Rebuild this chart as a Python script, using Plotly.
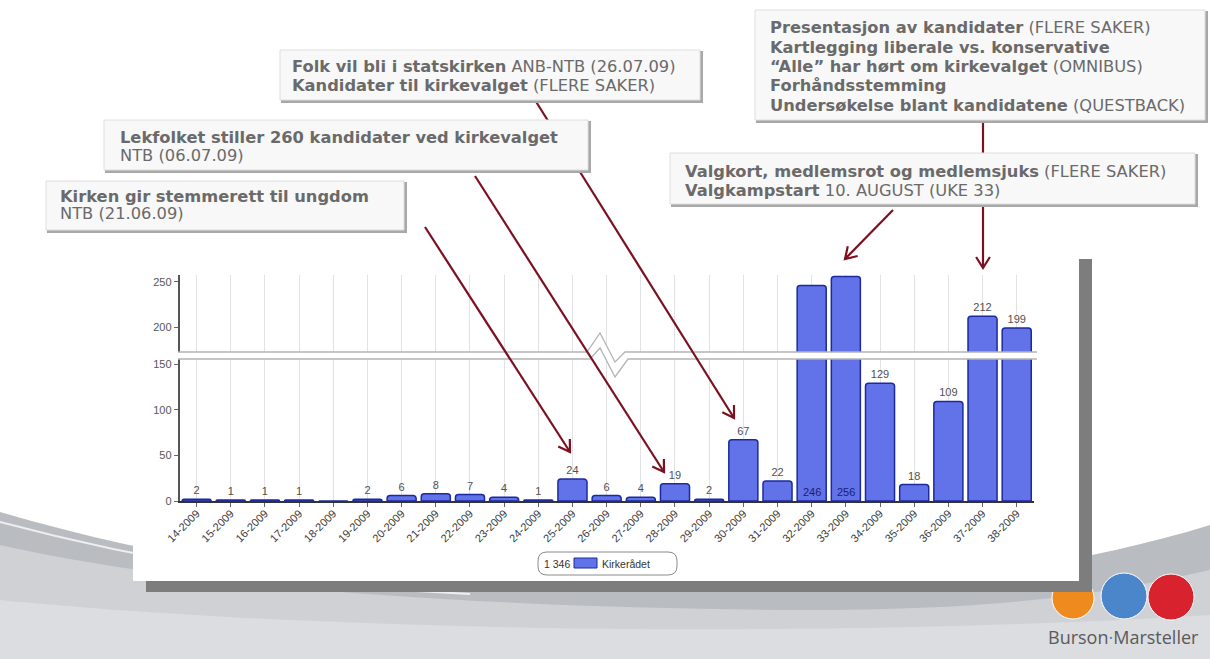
import math
import plotly.graph_objects as go

# ---------------- data ----------------
weeks = ["14-2009", "15-2009", "16-2009", "17-2009", "18-2009", "19-2009", "20-2009",
         "21-2009", "22-2009", "23-2009", "24-2009", "25-2009", "26-2009", "27-2009",
         "28-2009", "29-2009", "30-2009", "31-2009", "32-2009", "33-2009", "34-2009",
         "35-2009", "36-2009", "37-2009", "38-2009"]
mentions = [2, 1, 1, 1, 0, 2, 6, 8, 7, 4, 1, 24, 6, 4, 19, 2, 67, 22, 246, 256, 129,
            18, 109, 212, 199]
series_name = "Kirkerådet"
total_label = "1 346"
lower_ticks = [0, 50, 100, 150]
upper_ticks = [200, 250]

W, H = 1210, 659
def px(x):
    return x / W
def py(y):
    return 1 - y / H

LOW_MAX = 155.5
UP_MIN, UP_MAX = 172.6, 257.7
INSIDE_MIN = 240

lower_text = [str(v) if 0 < v <= LOW_MAX else "" for v in mentions]
upper_text = [str(v) if UP_MIN < v < INSIDE_MIN else "" for v in mentions]

BAR_FILL = "#6273ea"
BAR_LINE = "#1b2a9c"
TXT = "#505050"

fig = go.Figure()
fig.add_trace(go.Bar(
    x=weeks, y=mentions, xaxis="x", yaxis="y", name=series_name,
    marker=dict(color=BAR_FILL, line=dict(color=BAR_LINE, width=1.5), cornerradius=3),
    text=lower_text, textposition="outside", cliponaxis=False,
    textfont=dict(family="Liberation Sans", size=11, color=TXT),
    showlegend=False,
))
fig.add_trace(go.Bar(
    x=weeks, y=mentions, xaxis="x2", yaxis="y2", name=series_name,
    marker=dict(color=BAR_FILL, line=dict(color=BAR_LINE, width=1.5), cornerradius=3),
    text=upper_text, textposition="outside", cliponaxis=False,
    textfont=dict(family="Liberation Sans", size=11, color=TXT),
    showlegend=False,
))

annotations = []
# labels inside the tallest bars, at their base
for w, v in zip(weeks, mentions):
    if v >= INSIDE_MIN:
        annotations.append(dict(x=w, y=0, xref="x", yref="y", text=str(v), showarrow=False,
                                yanchor="bottom", yshift=1,
                                font=dict(family="Liberation Sans", size=11, color="#17206e")))

shapes = []
# ---- slide background ----
shapes.append(dict(type="path", xref="paper", yref="paper", layer="below",
                   path=f"M {px(0)} {py(512)} C {px(150)} {py(556)}, {px(300)} {py(580)}, {px(470)} {py(588)} "
                        f"C {px(750)} {py(598)}, {px(1000)} {py(590)}, {px(1210)} {py(525)} "
                        f"L {px(1210)} {py(659)} L {px(0)} {py(659)} Z",
                   fillcolor="#b9bcc1", line=dict(width=0)))
shapes.append(dict(type="path", xref="paper", yref="paper", layer="below",
                   path=f"M {px(0)} {py(545)} C {px(200)} {py(590)}, {px(500)} {py(608)}, {px(800)} {py(610)} "
                        f"C {px(1000)} {py(610)}, {px(1100)} {py(595)}, {px(1210)} {py(570)} "
                        f"L {px(1210)} {py(659)} L {px(0)} {py(659)} Z",
                   fillcolor="#cfd1d4", line=dict(width=0)))
shapes.append(dict(type="path", xref="paper", yref="paper", layer="below",
                   path=f"M {px(0)} {py(600)} C {px(300)} {py(630)}, {px(800)} {py(640)}, {px(1210)} {py(615)} "
                        f"L {px(1210)} {py(659)} L {px(0)} {py(659)} Z",
                   fillcolor="#dcdde0", line=dict(width=0)))
shapes.append(dict(type="path", xref="paper", yref="paper", layer="below",
                   path=f"M {px(0)} {py(522)} C {px(150)} {py(562)}, {px(300)} {py(586)}, {px(470)} {py(594)}",
                   line=dict(color="#eeeeee", width=2)))
# ---- logo globes (partly under the panel shadow) ----
for cx, cy, r, col in [(1073, 598, 21, "#ef8a1e"), (1124, 596, 23, "#4a86c9"), (1171, 597, 23, "#d8222e")]:
    shapes.append(dict(type="circle", xref="paper", yref="paper", layer="below",
                       x0=px(cx - r), x1=px(cx + r), y0=py(cy + r), y1=py(cy - r),
                       fillcolor=col, line=dict(color="white", width=1)))
# ---- chart panel with shadow ----
shapes.append(dict(type="rect", xref="paper", yref="paper", layer="below",
                   x0=px(146), x1=px(1092), y0=py(592), y1=py(259),
                   fillcolor="#7d7d7d", line=dict(width=0)))
shapes.append(dict(type="rect", xref="paper", yref="paper", layer="below",
                   x0=px(133), x1=px(1079), y0=py(581), y1=py(257),
                   fillcolor="white", line=dict(width=0)))

# ---- legend (drawn box: total, swatch, series name) ----
lx0, lx1, ly0, ly1, rr = 538, 677, 552, 575, 9
shapes.append(dict(type="path", xref="paper", yref="paper", layer="above",
                   path=(f"M {px(lx0 + rr)} {py(ly0)} L {px(lx1 - rr)} {py(ly0)} "
                         f"Q {px(lx1)} {py(ly0)} {px(lx1)} {py(ly0 + rr)} L {px(lx1)} {py(ly1 - rr)} "
                         f"Q {px(lx1)} {py(ly1)} {px(lx1 - rr)} {py(ly1)} L {px(lx0 + rr)} {py(ly1)} "
                         f"Q {px(lx0)} {py(ly1)} {px(lx0)} {py(ly1 - rr)} L {px(lx0)} {py(ly0 + rr)} "
                         f"Q {px(lx0)} {py(ly0)} {px(lx0 + rr)} {py(ly0)} Z"),
                   fillcolor="white", line=dict(color="#8a8a8a", width=1)))
shapes.append(dict(type="rect", xref="paper", yref="paper", layer="above",
                   x0=px(574), x1=px(597), y0=py(568), y1=py(558),
                   fillcolor=BAR_FILL, line=dict(color=BAR_LINE, width=1)))
annotations.append(dict(x=px(542), y=py(563.5), xref="paper", yref="paper", text=total_label,
                        showarrow=False, xanchor="left", yanchor="middle",
                        font=dict(family="Liberation Sans", size=10.5, color="#333")))
annotations.append(dict(x=px(600), y=py(563.5), xref="paper", yref="paper", text=series_name,
                        showarrow=False, xanchor="left", yanchor="middle",
                        font=dict(family="Liberation Sans", size=10.5, color="#333")))

# ---- axis break ----
BRK = "#b4b4b4"
shapes.append(dict(type="path", xref="paper", yref="paper", layer="above",
                   path=f"M {px(587)} {py(352)} L {px(600)} {py(333)} L {px(615)} {py(362)} L {px(625)} {py(352)} "
                        f"L {px(628)} {py(359)} L {px(615)} {py(377)} L {px(600)} {py(348)} L {px(590)} {py(359)} Z",
                   fillcolor="white", line=dict(width=0)))
shapes.append(dict(type="path", xref="paper", yref="paper", layer="above",
                   path=f"M {px(178)} {py(352)} L {px(587)} {py(352)} L {px(600)} {py(333)} L {px(615)} {py(362)} "
                        f"L {px(625)} {py(352)} L {px(1037)} {py(352)}",
                   line=dict(color=BRK, width=1.3)))
shapes.append(dict(type="path", xref="paper", yref="paper", layer="above",
                   path=f"M {px(178)} {py(359)} L {px(590)} {py(359)} L {px(600)} {py(348)} L {px(615)} {py(377)} "
                        f"L {px(628)} {py(359)} L {px(1037)} {py(359)}",
                   line=dict(color=BRK, width=1.3)))

# ---- arrows ----
ARROW = "#7b1020"
def arrow(x0, y0, x1, y1):
    shapes.append(dict(type="line", xref="paper", yref="paper", layer="above",
                       x0=px(x0), y0=py(y0), x1=px(x1), y1=py(y1),
                       line=dict(color=ARROW, width=2.2)))
    ang = math.atan2(y1 - y0, x1 - x0)
    L, a = 13, math.radians(32)
    lx = x1 - L * math.cos(ang - a); ly = y1 - L * math.sin(ang - a)
    rx = x1 - L * math.cos(ang + a); ry = y1 - L * math.sin(ang + a)
    shapes.append(dict(type="path", xref="paper", yref="paper", layer="above",
                       path=f"M {px(lx)} {py(ly)} L {px(x1)} {py(y1)} L {px(rx)} {py(ry)}",
                       line=dict(color=ARROW, width=2.2)))

arrow(425, 227, 570, 452)
arrow(475, 176, 664, 472)
arrow(535, 100, 734, 418)
arrow(893, 210, 845, 259)
arrow(983, 122, 983, 268)

# ---- text boxes ----
boxes = [
    (46, 181, 404, 230),
    (104, 120, 588, 170),
    (280, 50, 700, 100),
    (755, 10, 1205, 120),
    (670, 153, 1195, 204),
]
for x0, y0, x1, y1 in boxes:
    shapes.append(dict(type="rect", xref="paper", yref="paper", layer="above",
                       x0=px(x0 + 1), x1=px(x1 + 3), y0=py(y1 + 3), y1=py(y0 + 1),
                       fillcolor="#a8a8a8", line=dict(width=0)))
    shapes.append(dict(type="rect", xref="paper", yref="paper", layer="above",
                       x0=px(x0), x1=px(x1), y0=py(y1), y1=py(y0),
                       fillcolor="#f8f8f8", line=dict(color="#dedede", width=1)))

BFONT = "DejaVu Sans"
def line_text(bold, normal=""):
    s = f"<b>{bold}</b>" if bold else ""
    if normal:
        s += (" " if bold else "") + normal
    return s

box_lines = [
    (58, [196, 214], [("Kirken gir stemmerett til ungdom", ""), ("", "NTB (21.06.09)")]),
    (118, [137, 156], [("Lekfolket stiller 260 kandidater ved kirkevalget", ""), ("", "NTB (06.07.09)")]),
    (290, [66, 86], [("Folk vil bli i statskirken", "ANB-NTB (26.07.09)"),
                     ("Kandidater til kirkevalget", "(FLERE SAKER)")]),
    (768, [28, 47, 66, 86, 105], [("Presentasjon av kandidater", "(FLERE SAKER)"),
                                  ("Kartlegging liberale vs. konservative", ""),
                                  ("“Alle” har hørt om kirkevalget", "(OMNIBUS)"),
                                  ("Forhåndsstemming", ""),
                                  ("Undersøkelse blant kandidatene", "(QUESTBACK)")]),
    (683, [172, 190], [("Valgkort, medlemsrot og medlemsjuks", "(FLERE SAKER)"),
                       ("Valgkampstart", "10. AUGUST (UKE 33)")]),
]
for xl, ys, lines in box_lines:
    for yy, (b, n) in zip(ys, lines):
        annotations.append(dict(x=px(xl), y=py(yy), xref="paper", yref="paper",
                                text=line_text(b, n), showarrow=False,
                                xanchor="left", yanchor="middle", align="left",
                                font=dict(family=BFONT, size=16.3, color="#6a6a6a")))

annotations.append(dict(x=px(1123), y=py(637), xref="paper", yref="paper",
                        text="Burson<span style='color:#4a86c9'>·</span>Marsteller", showarrow=False,
                        xanchor="center", yanchor="middle",
                        font=dict(family="Open Sans", size=18, color="#5a5a5a")))

axis_font = dict(family="Liberation Sans", size=11, color="#3a3a3a")
fig.update_layout(
    width=W, height=H,
    margin=dict(l=0, r=0, t=0, b=0, autoexpand=False),
    paper_bgcolor="white", plot_bgcolor="rgba(0,0,0,0)",
    bargap=0.15, showlegend=False,
    xaxis=dict(domain=[px(179.5), px(1033.8)], anchor="y", type="category",
               range=[-0.5, len(weeks) - 0.5], automargin=False,
               tickangle=-45, tickfont=axis_font, ticks="outside", ticklen=4,
               ticklabelstandoff=-4,
               tickcolor="#666", showline=True, linecolor="#333", linewidth=1.5,
               showgrid=True, gridcolor="#e2e2e2", gridwidth=1, fixedrange=True),
    yaxis=dict(domain=[py(501), py(359)], anchor="x", range=[0, LOW_MAX], automargin=False,
               tickvals=lower_ticks, tickfont=dict(family="Liberation Sans", size=11, color="#555"),
               ticks="outside", ticklen=4, tickcolor="#666",
               showline=True, linecolor="#555", linewidth=1.5, showgrid=False, zeroline=False),
    xaxis2=dict(domain=[px(179.5), px(1033.8)], anchor="y2", matches="x", type="category",
                showticklabels=False, ticks="", showline=False, automargin=False,
                showgrid=True, gridcolor="#e2e2e2", gridwidth=1),
    yaxis2=dict(domain=[py(352), py(275)], anchor="x2", range=[UP_MIN, UP_MAX], automargin=False,
                tickvals=upper_ticks, tickfont=dict(family="Liberation Sans", size=11, color="#555"),
                ticks="outside", ticklen=4, tickcolor="#666",
                showline=True, linecolor="#555", linewidth=1.5, showgrid=False, zeroline=False),
    shapes=shapes,
    annotations=annotations,
)

fig.write_html("out.html", config={"displayModeBar": False},
               post_script="document.body.style.margin='0';")
